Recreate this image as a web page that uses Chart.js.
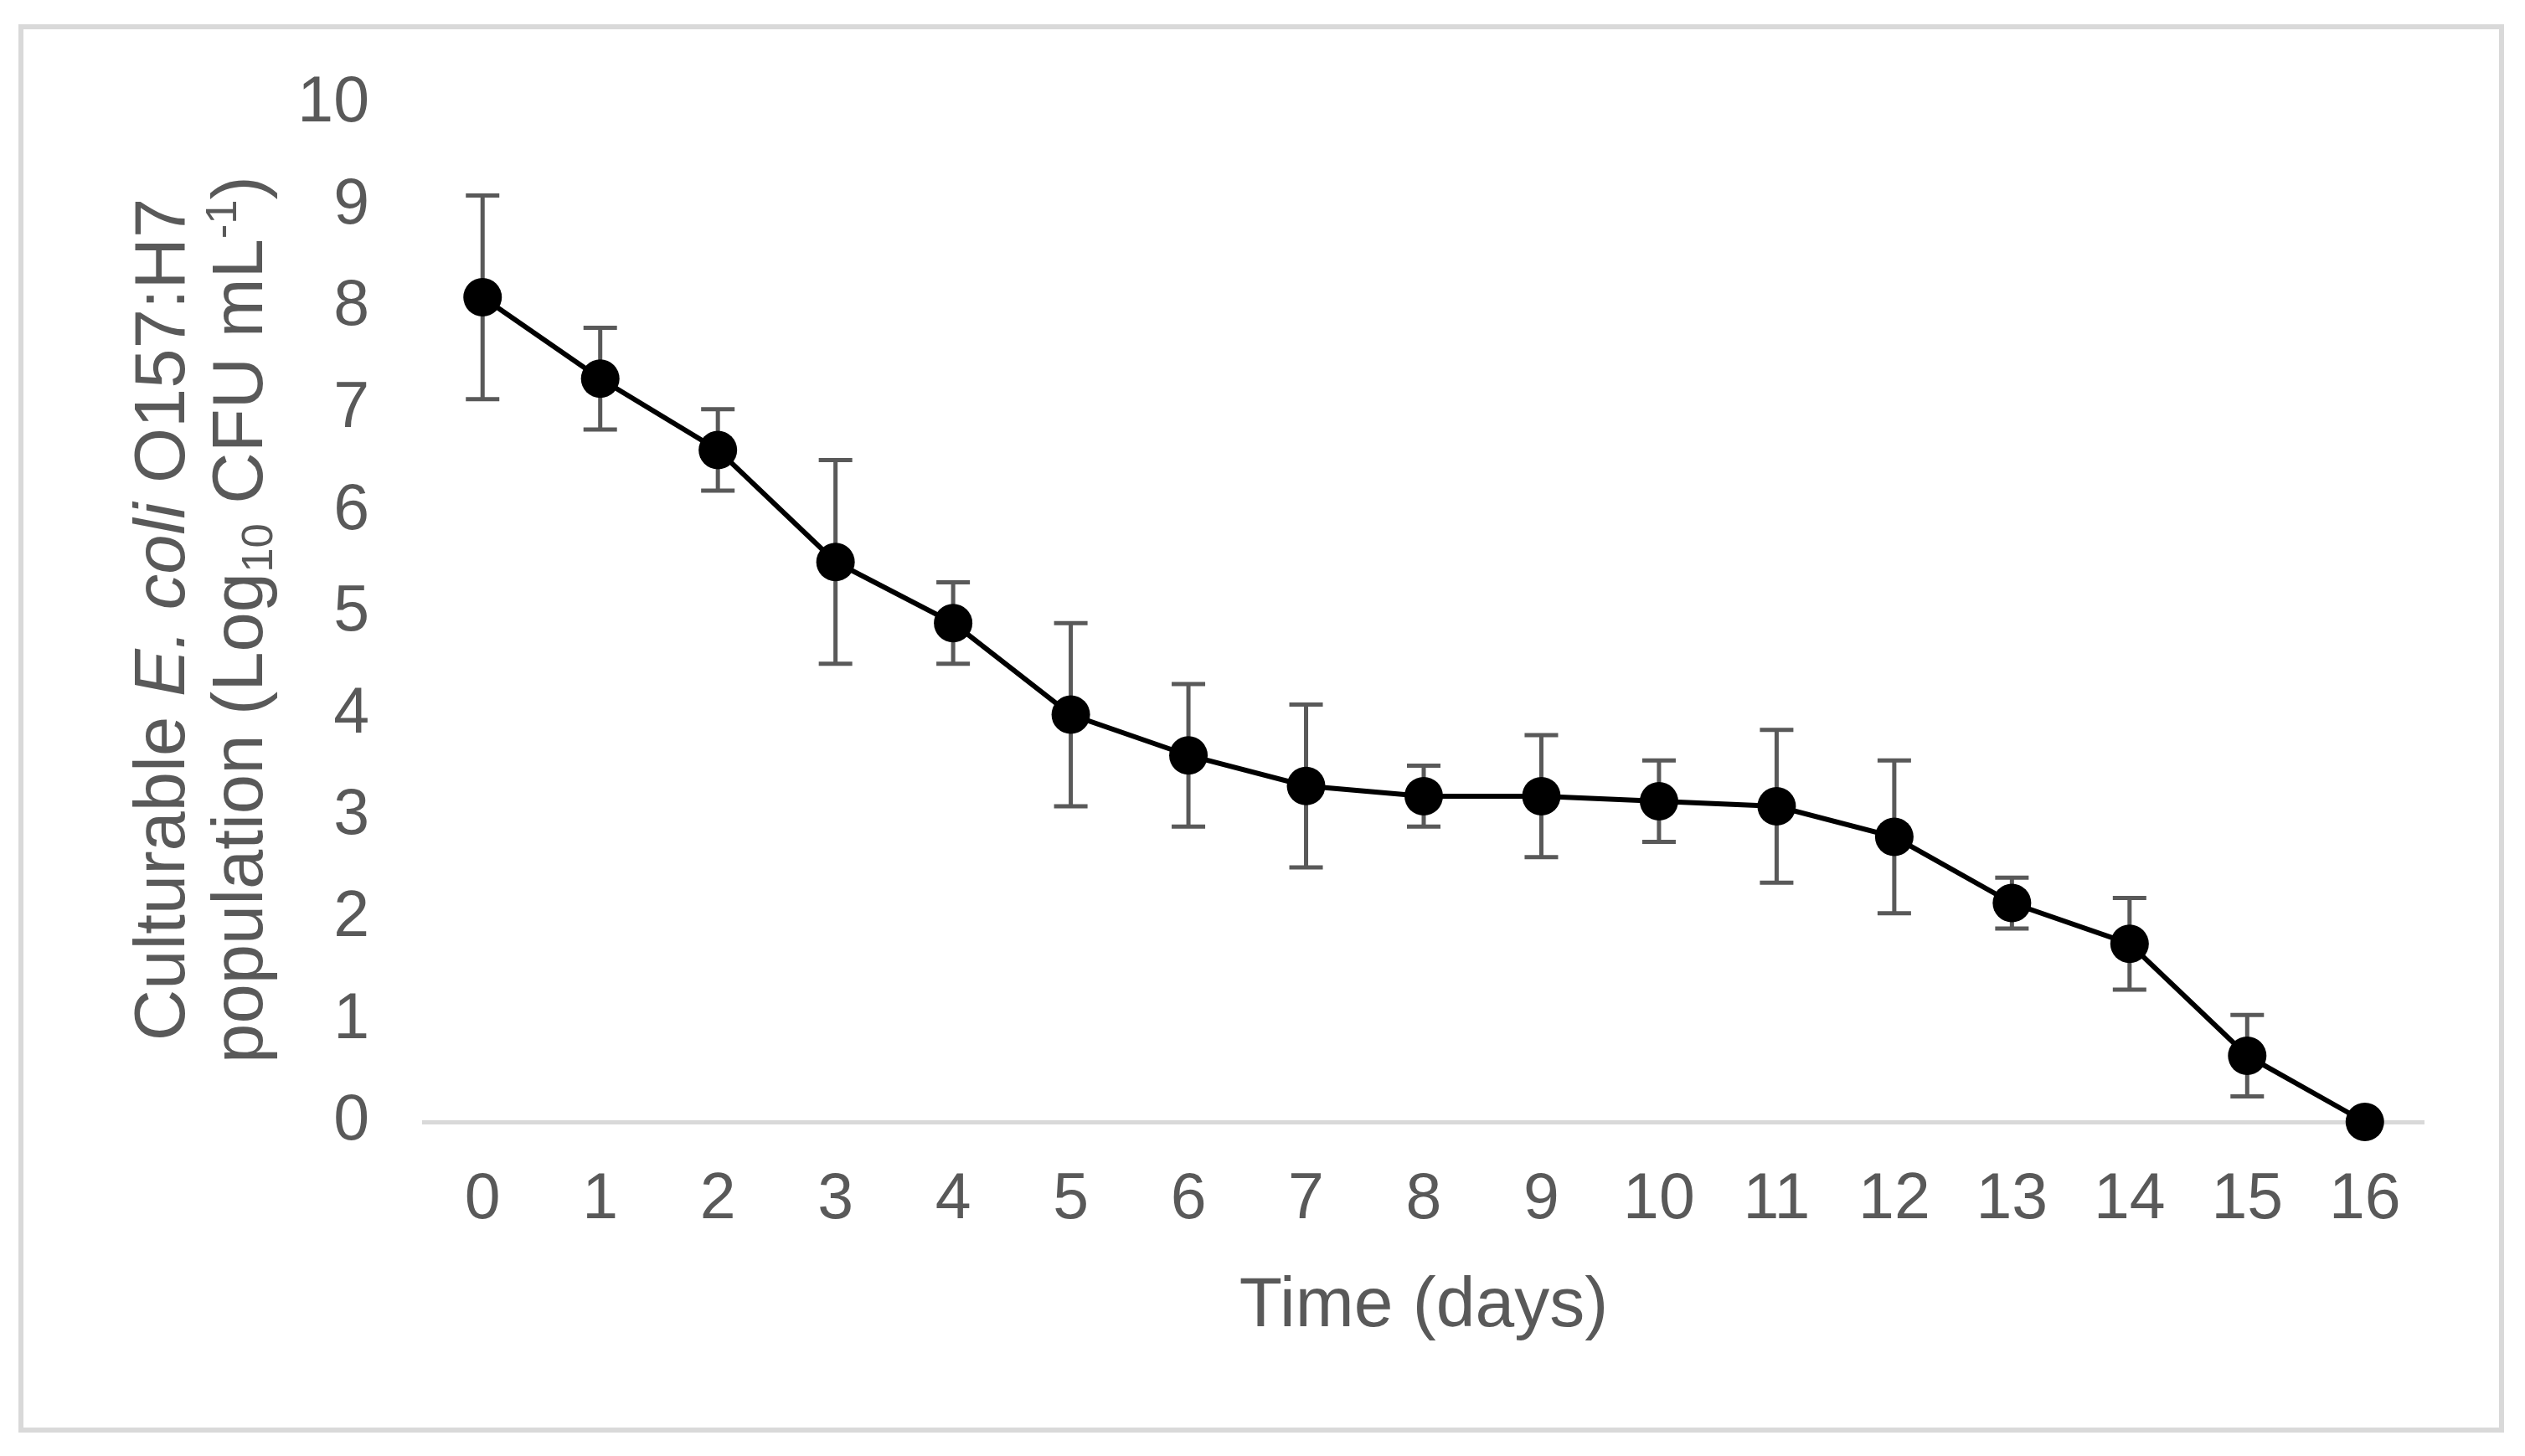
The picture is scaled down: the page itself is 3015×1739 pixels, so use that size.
<!DOCTYPE html>
<html>
<head>
<meta charset="utf-8">
<script src="https://cdn.jsdelivr.net/npm/chart.js@4.4.0/dist/chart.umd.min.js"></script>
<style>
  html, body { margin: 0; padding: 0; background: #fff; }
  #wrap { width: 3015px; height: 1739px; }
</style>
</head>
<body>
<div id="wrap"><canvas id="chart" width="3015" height="1739"></canvas></div>
<script>
// sampling days (x axis)
const days = ['0', '1', '2', '3', '4', '5', '6', '7', '8', '9', '10', '11', '12', '13', '14', '15', '16'];
// culturable population, log10 CFU/mL
const population = [8.1, 7.3, 6.6, 5.5, 4.9, 4.0, 3.6, 3.3, 3.2, 3.2, 3.15, 3.1, 2.8, 2.15, 1.75, 0.65, 0];
// error bar half-length
const errorSize = [1.0, 0.5, 0.4, 1.0, 0.4, 0.9, 0.7, 0.8, 0.3, 0.6, 0.4, 0.75, 0.75, 0.25, 0.45, 0.4, 0];

const xTitle = 'Time (days)';
// y title, two lines with italic / sub / superscript parts
const yTitleLine1 = [
    { text: 'Culturable ' },
    { text: 'E. coli', italic: true },
    { text: ' O157:H7' }
];
const yTitleLine2 = [
    { text: 'population (Log' },
    { text: '10', sub: true },
    { text: ' CFU mL' },
    { text: '-1', sup: true },
    { text: ')' }
];

const FONT = "'Liberation Sans', Arial, sans-serif";
const GREY = '#595959';
const LIGHT = '#d9d9d9';

// outer frame around the figure
const framePlugin = {
    id: 'frame',
    beforeDraw(chart) {
        const ctx = chart.ctx;
        ctx.save();
        ctx.fillStyle = '#fff';
        ctx.fillRect(0, 0, chart.width, chart.height);
        ctx.strokeStyle = LIGHT;
        ctx.lineWidth = 6;
        ctx.strokeRect(25, 32, 2962, 1676);
        ctx.restore();
    }
};

// error bars drawn from the y scale
const errorBarPlugin = {
    id: 'errorBars',
    beforeDatasetsDraw(chart) {
        const ctx = chart.ctx;
        const yScale = chart.scales.y;
        const meta = chart.getDatasetMeta(0);
        ctx.save();
        ctx.strokeStyle = GREY;
        ctx.lineWidth = 5;
        meta.data.forEach((pt, i) => {
            const e = errorSize[i];
            if (!e) return;
            const top = yScale.getPixelForValue(population[i] + e);
            const bot = yScale.getPixelForValue(population[i] - e);
            ctx.beginPath();
            ctx.moveTo(pt.x, top);
            ctx.lineTo(pt.x, bot);
            ctx.moveTo(pt.x - 20, top);
            ctx.lineTo(pt.x + 20, top);
            ctx.moveTo(pt.x - 20, bot);
            ctx.lineTo(pt.x + 20, bot);
            ctx.stroke();
        });
        ctx.restore();
    }
};

function fontFor(seg, size) {
    const s = (seg.sub || seg.sup) ? size * 0.62 : size;
    return (seg.italic ? 'italic ' : '') + s + 'px ' + FONT;
}

function drawRichLine(ctx, segs, baseline, size) {
    let total = 0;
    segs.forEach(seg => {
        ctx.font = fontFor(seg, size);
        seg.w = ctx.measureText(seg.text).width;
        total += seg.w;
    });
    let x = -total / 2;
    segs.forEach(seg => {
        ctx.font = fontFor(seg, size);
        let dy = 0;
        if (seg.sub) dy = size * 0.14;
        if (seg.sup) dy = -size * 0.36;
        ctx.fillText(seg.text, x, baseline + dy);
        x += seg.w;
    });
}

// rotated y axis title
const yTitlePlugin = {
    id: 'yTitle',
    afterDraw(chart) {
        const ctx = chart.ctx;
        const size = 85;
        ctx.save();
        ctx.fillStyle = GREY;
        ctx.textBaseline = 'alphabetic';
        ctx.textAlign = 'left';
        ctx.translate(0, 740);
        ctx.rotate(-Math.PI / 2);
        drawRichLine(ctx, yTitleLine1, 220, size);
        drawRichLine(ctx, yTitleLine2, 313, size);
        ctx.restore();
    }
};

new Chart(document.getElementById('chart'), {
    type: 'line',
    data: {
        labels: days,
        datasets: [{
            data: population,
            borderColor: '#000',
            borderWidth: 6,
            backgroundColor: '#000',
            pointBackgroundColor: '#000',
            pointBorderWidth: 0,
            pointRadius: 23,
            tension: 0,
            clip: false
        }]
    },
    options: {
        responsive: false,
        devicePixelRatio: 1,
        animation: false,
        layout: { padding: { left: 0, right: 121, top: 124, bottom: 0 } },
        plugins: {
            legend: { display: false },
            tooltip: { enabled: false }
        },
        scales: {
            x: {
                type: 'category',
                offset: true,
                grid: { display: false, drawTicks: false },
                border: { display: true, color: LIGHT, width: 5 },
                ticks: { color: GREY, font: { family: FONT, size: 77 }, padding: 48, maxRotation: 0, autoSkip: false },
                title: {
                    display: true,
                    text: xTitle,
                    color: GREY,
                    font: { family: FONT, size: 84 },
                    padding: { top: 0, bottom: 128 }
                },
                afterFit: s => { s.height = 399; }
            },
            y: {
                min: 0,
                max: 10,
                grid: { display: false, drawTicks: false },
                border: { display: false },
                ticks: { stepSize: 1, color: GREY, font: { family: FONT, size: 77 }, padding: 65 },
                afterFit: s => { s.width = 506; }
            }
        }
    },
    plugins: [framePlugin, errorBarPlugin, yTitlePlugin]
});
</script>
</body>
</html>
